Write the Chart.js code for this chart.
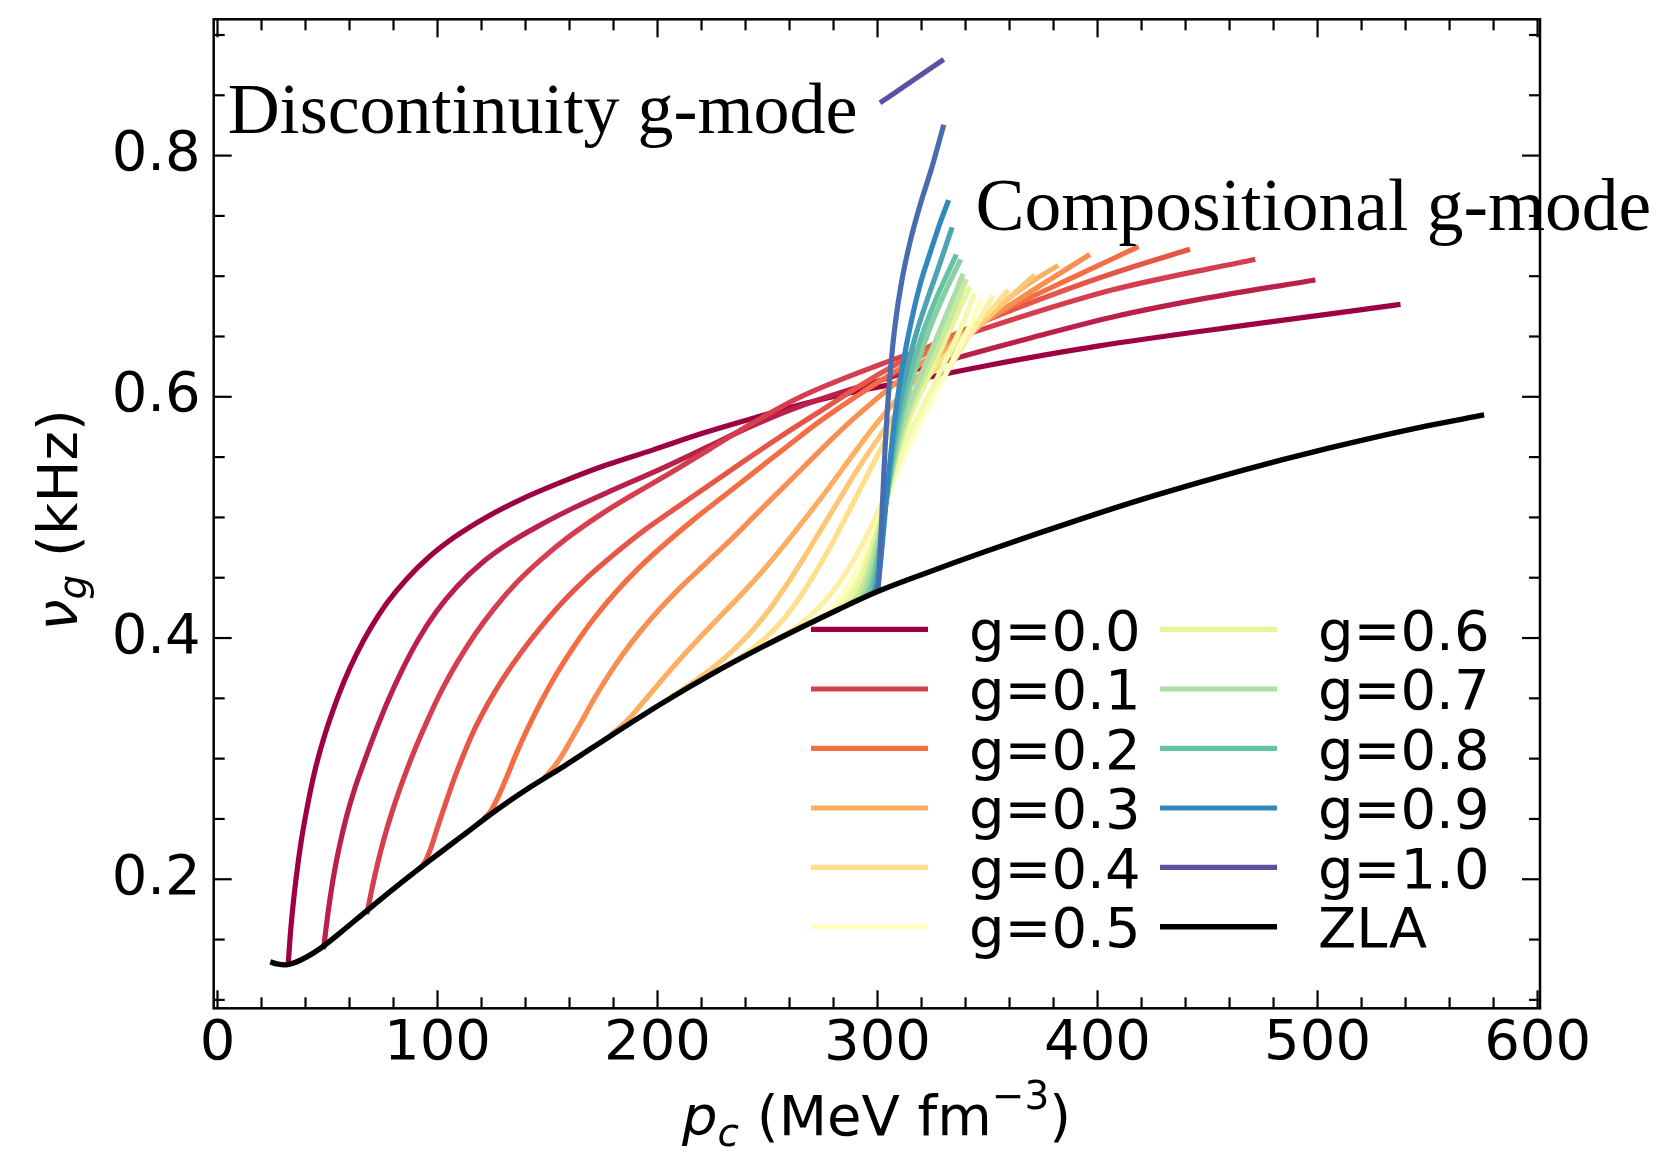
<!DOCTYPE html>
<html><head><meta charset="utf-8">
<script src="https://cdn.jsdelivr.net/npm/chart.js@4.4.1/dist/chart.umd.min.js"></script>
<style>html,body{margin:0;padding:0;background:#fff;overflow:hidden}canvas{display:block}</style>
</head><body>
<canvas id="c" width="1665" height="1154"></canvas>
<script>
// ---------------- data (p_c in MeV fm^-3, nu_g in kHz) ----------------
const xTicks = [0, 100, 200, 300, 400, 500, 600];
const yTicks = [0.2, 0.4, 0.6, 0.8];
const gValues = [0,0.05,0.1,0.15,0.2,0.25,0.3,0.35,0.4,0.45,0.5,0.55,0.6,0.65,0.7,0.75,0.8,0.85,0.9,0.95,1.0];
const legendLabels = ['g=0.0','g=0.1','g=0.2','g=0.3','g=0.4','g=0.5','g=0.6','g=0.7','g=0.8','g=0.9','g=1.0','ZLA'];

const ZLA = [[24,0.1315],[27,0.1298],[31,0.129],[36,0.1315],[41,0.136],[46.7,0.1426],[56,0.156],[66.4,0.1717],[80,0.192],[96.8,0.216],[112,0.237],[127,0.2576],[142,0.2762],[157.5,0.2937],[180,0.3205],[203,0.347],[225,0.3705],[247,0.392],[265,0.4085],[282,0.4235],[300,0.4385],[320,0.4525],[350,0.4723],[394,0.4996],[425,0.5176],[465,0.5386],[505,0.5574],[546,0.5745],[575.7,0.585]];

const g000 = [[32.2,0.131],[33,0.152],[34.2,0.176],[35.8,0.202],[38,0.231],[40.8,0.26],[44,0.288],[48,0.315],[52.5,0.34],[57.5,0.364],[63,0.386],[69.5,0.408],[77,0.429],[86,0.449],[96,0.467],[108,0.484],[122,0.5],[138,0.515],[156,0.529],[176,0.543],[198,0.556],[220,0.5695],[243,0.582],[266,0.594],[292,0.605],[320,0.615],[350,0.626],[400,0.642],[470,0.66],[537.7,0.6766]];
const g005 = [[48.2,0.142],[49.5,0.162],[51,0.182],[53,0.205],[55.5,0.228],[58.5,0.251],[62,0.273],[66.4,0.296],[71.5,0.321],[77,0.346],[83.5,0.372],[91,0.398],[99.5,0.422],[109,0.443],[120,0.462],[132,0.478],[146,0.493],[162,0.508],[180,0.523],[200,0.539],[221,0.557],[243,0.576],[266,0.593],[300,0.613],[333.6,0.631],[370,0.649],[406.4,0.666],[450,0.682],[499,0.6968]];
const g010 = [[67.9,0.171],[69.5,0.186],[71.5,0.203],[74,0.222],[77,0.242],[81,0.265],[85.5,0.288],[90.5,0.311],[96,0.334],[102,0.357],[109,0.38],[117,0.403],[126,0.425],[136,0.446],[147,0.465],[159,0.483],[173,0.501],[189,0.519],[206,0.537],[224,0.557],[243,0.578],[265,0.6],[300,0.626],[342.7,0.653],[406.4,0.6885],[471.7,0.714]];
const g015 = [[92.2,0.209],[94.5,0.215],[97,0.226],[100,0.243],[103.5,0.262],[107.5,0.283],[112,0.304],[117,0.325],[123,0.346],[130,0.367],[138,0.388],[147,0.409],[157,0.43],[168,0.45],[180,0.469],[193,0.488],[207,0.506],[222,0.525],[238,0.545],[255,0.566],[273,0.587],[300,0.618],[325,0.643],[350.3,0.664],[380,0.685],[406.4,0.702],[442,0.7223]];
const g020 = [[121,0.25],[124,0.256],[127.5,0.268],[131.5,0.285],[136,0.305],[141,0.325],[147,0.347],[154,0.37],[162,0.393],[171,0.416],[181,0.438],[192,0.459],[204,0.479],[217,0.499],[231,0.519],[245,0.539],[259,0.559],[274,0.58],[290,0.6],[310,0.623],[335,0.65],[360,0.674],[390,0.7],[418.6,0.7245]];
const g025 = [[148.4,0.284],[152,0.291],[156,0.301],[160.5,0.315],[165.5,0.331],[171,0.349],[177,0.367],[184,0.386],[192,0.405],[201,0.424],[211,0.443],[222,0.462],[233,0.481],[244,0.501],[255,0.521],[266,0.541],[277,0.561],[288,0.58],[300,0.599],[315,0.621],[332,0.643],[350,0.664],[372,0.69],[396.5,0.718]];
const g030 = [[178.7,0.32],[183,0.326],[188,0.335],[194,0.348],[201,0.363],[209,0.38],[218,0.398],[228,0.417],[238,0.436],[248,0.456],[258,0.478],[268,0.501],[278,0.525],[288,0.55],[297,0.572],[306,0.592],[316,0.612],[327,0.632],[340,0.653],[355,0.675],[368,0.693],[382.1,0.709]];
const g035 = [[206,0.351],[212,0.358],[219,0.367],[227,0.378],[235,0.391],[243,0.406],[251,0.424],[259,0.445],[267,0.468],[275,0.492],[283,0.516],[291,0.54],[299,0.562],[308,0.585],[318,0.607],[329,0.628],[340,0.648],[351,0.667],[361,0.684],[371.5,0.701]];
const g040 = [[227.3,0.373],[234,0.38],[241,0.388],[249,0.4],[257,0.415],[264,0.432],[271,0.452],[278,0.474],[285,0.498],[292,0.523],[299,0.548],[306,0.572],[314,0.596],[323,0.618],[333,0.638],[344,0.659],[352,0.673],[359.4,0.6885]];
const g045 = [[247,0.392],[255,0.4],[263,0.409],[271,0.421],[279,0.437],[286,0.455],[292,0.474],[298,0.496],[304,0.52],[310,0.545],[316,0.568],[322,0.59],[329,0.613],[337,0.637],[345,0.66],[352.5,0.684]];
const g050 = [[265.3,0.409],[272,0.415],[279,0.425],[285.5,0.44],[291,0.458],[296,0.478],[301,0.5],[306,0.524],[311,0.547],[316,0.566],[322,0.588],[329,0.612],[336,0.637],[342,0.659],[347.2,0.6816]];
const g055 = [[275.9,0.418],[282,0.425],[287,0.436],[292,0.452],[296.5,0.472],[300.5,0.493],[304.5,0.516],[309,0.543],[313.5,0.566],[318,0.583],[322,0.597],[327,0.615],[333,0.638],[339,0.662],[344.2,0.6857]];
const g060 = [[282,0.4235],[287,0.43],[291,0.442],[294.5,0.458],[298,0.478],[301.5,0.5],[305,0.525],[309,0.552],[313.5,0.577],[318,0.597],[323,0.616],[329,0.64],[335,0.664],[341.9,0.691]];
const g065 = [[286.5,0.4273],[290,0.432],[293.5,0.444],[296.5,0.46],[299.5,0.48],[302.5,0.503],[305.5,0.528],[309,0.556],[313,0.581],[317.5,0.602],[323,0.624],[329,0.648],[335,0.673],[340.4,0.6976]];
const g070 = [[290.3,0.4305],[293,0.435],[295.5,0.446],[298,0.462],[300.5,0.482],[303,0.505],[306,0.533],[309.5,0.562],[313.5,0.588],[318,0.61],[323,0.632],[328.5,0.656],[334,0.68],[338.9,0.702]];
const g075 = [[293.3,0.433],[295.5,0.438],[297.5,0.449],[299.5,0.465],[301.5,0.485],[303.5,0.508],[306,0.536],[309,0.566],[312.5,0.594],[316.5,0.619],[321,0.643],[326,0.667],[332,0.692],[337.8,0.714]];
const g080 = [[295.6,0.435],[297.5,0.441],[299.2,0.455],[300.8,0.473],[302.5,0.495],[304.5,0.522],[307,0.552],[310,0.582],[313.5,0.61],[317.5,0.636],[322,0.66],[327,0.683],[331.5,0.701],[335.8,0.718]];
const g085 = [[297.9,0.4368],[299.2,0.444],[300.5,0.46],[301.8,0.48],[303.3,0.505],[305.2,0.535],[307.5,0.566],[310.5,0.597],[314,0.628],[318,0.655],[322.5,0.68],[327.5,0.706],[333.9,0.7406]];
const g090 = [[299.4,0.438],[300.4,0.447],[301.4,0.463],[302.4,0.483],[303.5,0.505],[305,0.535],[306.8,0.566],[309,0.598],[312,0.632],[315.5,0.664],[319.5,0.694],[324,0.72],[328,0.742],[332.3,0.763]];
const g095 = [[300.2,0.4386],[300.8,0.455],[301.4,0.478],[302,0.502],[302.7,0.53],[303.5,0.56],[304.5,0.59],[306,0.625],[308,0.66],[311,0.696],[315,0.73],[319.5,0.76],[324.5,0.789],[330.1,0.8256]];
const g100 = [[301.1,0.8437],[315.6,0.8617],[330.1,0.8797]];

const curves = [g000,g005,g010,g015,g020,g025,g030,g035,g040,g045,g050,g055,g060,g065,g070,g075,g080,g085,g090,g095,g100];
// Spectral colormap sampled at g
const colors = ['#9e0142','#ba2049','#d53e4f','#e55649','#f46d43','#f88e52','#fdae61','#fec776','#fee08b','#feefa5','#ffffbf','#f2faac','#e6f598','#c8e99e','#abdda4','#88cfa4','#66c2a5','#4ca5b1','#3288bd','#486caf','#5e4fa2'];

// ---------------- chart ----------------
const datasets = curves.map((d, i) => ({
  label: 'g=' + gValues[i].toFixed(2), data: d, borderColor: colors[i], backgroundColor: colors[i],
  borderWidth: 5.2, pointRadius: 0, cubicInterpolationMode: 'monotone', borderCapStyle: 'butt',
  fill: false, order: curves.length - i + 1
}));
datasets.push({label: 'ZLA', data: ZLA, borderColor: '#000', backgroundColor: '#000', borderWidth: 5.4,
  pointRadius: 0, cubicInterpolationMode: 'monotone', borderCapStyle: 'butt', fill: false, order: 0});

const legendColors = [0,2,4,6,8,10,12,14,16,18,20].map(i => colors[i]).concat(['#000']);

const deco = {
  id: 'deco',
  afterDraw(chart) {
    const {ctx, chartArea: a, scales: {x, y}} = chart;
    ctx.save();
    // annotations
    ctx.fillStyle = '#000';
    ctx.textBaseline = 'alphabetic'; ctx.textAlign = 'left';
    ctx.font = '72px "Liberation Serif", "Times New Roman", serif';
    ctx.fillText('Discontinuity g-mode', x.getPixelForValue(4.6), y.getPixelForValue(0.8191));
    ctx.font = '73.5px "Liberation Serif", "Times New Roman", serif';
    ctx.fillText('Compositional g-mode', x.getPixelForValue(344.5), y.getPixelForValue(0.7384));

    // ticks (inward, all four sides)
    ctx.strokeStyle = '#000'; ctx.lineWidth = 2.2; ctx.lineCap = 'butt';
    const seg = (x1, y1, x2, y2) => { ctx.beginPath(); ctx.moveTo(x1, y1); ctx.lineTo(x2, y2); ctx.stroke(); };
    const xMin = [];
    for (let v = 0; v <= 600; v += 20) if (v % 100 !== 0) xMin.push(v);
    const yMin = [];
    for (let k = 2; k <= 18; k++) { const v = k * 0.05; if (k % 4 !== 0) yMin.push(v); }
    xTicks.forEach(v => { const p = x.getPixelForValue(v); seg(p, a.bottom, p, a.bottom - 18); seg(p, a.top, p, a.top + 18); });
    xMin.forEach(v => { const p = x.getPixelForValue(v); seg(p, a.bottom, p, a.bottom - 11); seg(p, a.top, p, a.top + 11); });
    yTicks.forEach(v => { const p = y.getPixelForValue(v); seg(a.left, p, a.left + 18, p); seg(a.right, p, a.right - 18, p); });
    yMin.forEach(v => { const p = y.getPixelForValue(v); if (p > a.top && p < a.bottom) { seg(a.left, p, a.left + 11, p); seg(a.right, p, a.right - 11, p); } });
    // frame
    ctx.lineWidth = 2.5;
    ctx.strokeRect(a.left, a.top, a.right - a.left, a.bottom - a.top);

    // x axis title: p_c (MeV fm^-3)
    const bx = 1135;
    let cx = 682;
    ctx.textAlign = 'left'; ctx.textBaseline = 'alphabetic';
    const put = (t, font, dy) => { ctx.font = font; ctx.fillText(t, cx, bx + dy); cx += ctx.measureText(t).width; };
    put('p', 'italic 56px "DejaVu Sans"', 0);
    put('c', 'italic 39px "DejaVu Sans"', 11);
    put(' (MeV fm', '56px "DejaVu Sans"', 0);
    put('\u22123', '39px "DejaVu Sans"', -26);
    put(')', '56px "DejaVu Sans"', 0);

    // y axis title: nu_g (kHz), rotated
    ctx.save();
    ctx.translate(77, 520);
    ctx.rotate(-Math.PI / 2);
    const parts = [['\u03bd', 'italic 56px "DejaVu Sans"', 0], ['g', 'italic 39px "DejaVu Sans"', 9], [' (kHz)', '56px "DejaVu Sans"', 0]];
    let tw = 0;
    parts.forEach(p => { ctx.font = p[1]; tw += ctx.measureText(p[0]).width; });
    let rx = -tw / 2;
    parts.forEach(p => { ctx.font = p[1]; ctx.fillText(p[0], rx, p[2]); rx += ctx.measureText(p[0]).width; });
    ctx.restore();

    // legend (2 columns x 6 rows)
    const rows = [629.3, 689, 748.3, 808, 867.3, 926.7];
    const cols = [{l0: 811, l1: 928, tx: 969}, {l0: 1160, l1: 1277, tx: 1318}];
    ctx.font = '56px "DejaVu Sans"';
    legendLabels.forEach((lab, i) => {
      const c = cols[Math.floor(i / 6)], r = rows[i % 6];
      ctx.strokeStyle = legendColors[i]; ctx.lineWidth = lab === 'ZLA' ? 5.4 : 5.2;
      seg(c.l0, r, c.l1, r);
      ctx.fillStyle = '#000';
      ctx.fillText(lab, c.tx, r + 20.4);
    });
    ctx.restore();
  }
};

new Chart(document.getElementById('c'), {
  type: 'line',
  data: {datasets},
  options: {
    responsive: false, animation: false, devicePixelRatio: 1,
    layout: {padding: {top: 19.3, right: 125, bottom: 0, left: 0}},
    plugins: {legend: {display: false}, tooltip: {enabled: false}},
    elements: {line: {tension: 0}},
    scales: {
      x: {
        type: 'linear', min: -1.73, max: 601.1,
        afterBuildTicks: s => { s.ticks = xTicks.map(v => ({value: v})); },
        afterFit: s => { s.height = 145.7; s.paddingLeft = 0; s.paddingRight = 0; },
        grid: {display: false, drawTicks: false}, border: {display: false},
        ticks: {font: {family: 'DejaVu Sans', size: 56}, color: '#000', padding: 2.3, maxRotation: 0, autoSkip: false,
          callback: v => String(v)}
      },
      y: {
        type: 'linear', min: 0.093, max: 0.913,
        afterBuildTicks: s => { s.ticks = yTicks.map(v => ({value: v})); },
        afterFit: s => { s.width = 213.7; s.paddingTop = 0; s.paddingBottom = 0; },
        grid: {display: false, drawTicks: false}, border: {display: false},
        ticks: {font: {family: 'DejaVu Sans', size: 56}, color: '#000', padding: 13, autoSkip: false,
          callback: v => Number(v).toFixed(1)}
      }
    }
  },
  plugins: [deco]
});
</script>
</body></html>
